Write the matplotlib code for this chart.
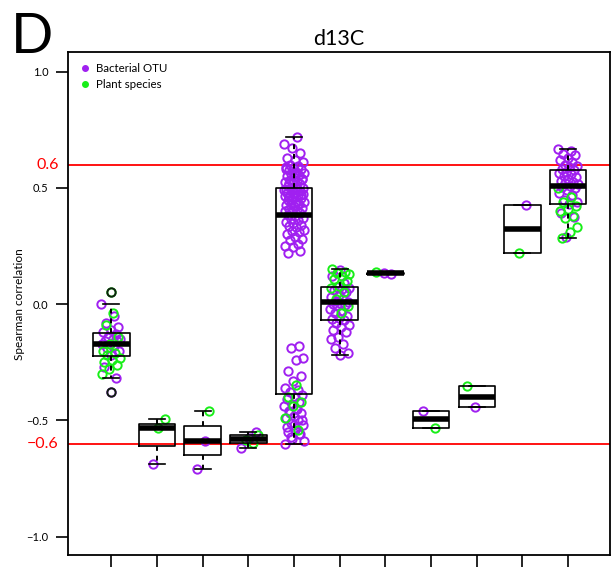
import numpy as np
import matplotlib.pyplot as plt
from matplotlib.lines import Line2D

plt.rcParams['font.family'] = ['Lato', 'DejaVu Sans']

# correlation values per group: bacterial OTUs (purple) and plant species (green)
bact = [
    [0.0, -0.05, -0.08, -0.10, -0.11, -0.12, -0.13, -0.14, -0.15, -0.15, -0.16,
     -0.16, -0.17, -0.17, -0.18, -0.19, -0.20, -0.22, -0.27, -0.32, -0.38],
    [-0.69],
    [-0.59, -0.71],
    [-0.55, -0.575, -0.62],
    [0.22, 0.23, 0.245, 0.25, 0.26, 0.275, 0.28, 0.29, 0.30, 0.31, 0.315, 0.32,
     0.33, 0.335, 0.34, 0.35, 0.355, 0.36, 0.365, 0.37,
     0.38, 0.385, 0.39, 0.395, 0.40, 0.405, 0.41, 0.415, 0.42, 0.425, 0.43,
     0.435, 0.44, 0.445, 0.45, 0.455, 0.46, 0.465, 0.47, 0.47, 0.475, 0.48,
     0.48, 0.485, 0.49, 0.49, 0.495, 0.46, 0.47, 0.48, 0.49, 0.43, 0.45,
     0.50, 0.505, 0.51, 0.515, 0.52, 0.525, 0.53, 0.535, 0.54, 0.545, 0.55,
     0.555, 0.56, 0.565, 0.57, 0.575, 0.58, 0.585, 0.59, 0.595, 0.60, 0.61,
     0.62, 0.63, 0.65, 0.67, 0.69, 0.72, 0.52, 0.54, 0.56, 0.58,
     -0.18, -0.19, -0.23, -0.24, -0.29, -0.31, -0.33, -0.36, -0.37, -0.38,
     -0.39, -0.40, -0.41, -0.42, -0.43, -0.44, -0.45, -0.46, -0.47, -0.48,
     -0.49, -0.50, -0.51, -0.52, -0.54, -0.55, -0.56, -0.58, -0.60,
     -0.45, -0.47, -0.5, -0.52, -0.53, -0.56, -0.57, -0.59],
    [0.145, 0.12, 0.09, 0.075, 0.07, 0.065, 0.06, 0.05, 0.04, 0.03, 0.02, 0.015,
     0.01, 0.005, 0.0, -0.005, -0.01, -0.02, -0.03, -0.04, -0.05, -0.06, -0.065,
     -0.07, -0.08, -0.09, -0.1, -0.11, -0.12, -0.14, -0.15, -0.17, -0.19,
     -0.21, -0.22],
    [0.128, 0.132],
    [-0.46],
    [-0.443],
    [0.426],
    [0.667, 0.66, 0.645, 0.64, 0.63, 0.62, 0.61, 0.6, 0.595, 0.59, 0.58, 0.575,
     0.57, 0.565, 0.56, 0.55, 0.545, 0.54, 0.53, 0.525, 0.52, 0.515, 0.51,
     0.505, 0.5, 0.49, 0.48, 0.47, 0.45, 0.44, 0.43, 0.39, 0.375, 0.29],
]
plant = [
    [0.05, -0.04, -0.09, -0.14, -0.17, -0.2, -0.21, -0.22, -0.23, -0.24, -0.25,
     -0.26, -0.28, -0.3],
    [-0.495, -0.535],
    [-0.46],
    [-0.598, -0.585, -0.563],
    [-0.35, -0.40, -0.42, -0.44, -0.49, -0.54],
    [0.15, 0.14, 0.135, 0.13, 0.12, 0.11, 0.1, 0.08, 0.07, 0.05, 0.02, -0.01,
     -0.04],
    [0.137],
    [-0.533],
    [-0.353],
    [0.219],
    [0.50, 0.46, 0.44, 0.42, 0.41, 0.4, 0.38, 0.37, 0.33, 0.31, 0.284],
]
yticks = [1.0, 0.5, 0.0, -0.5, -1.0]
thresholds = [0.6, -0.6]

purple = '#A020F0'
green = '#18EE18'


def fivenum(v):
    v = np.sort(v)
    n = len(v)
    n4 = np.floor((n + 3) / 2) / 2
    d = np.array([1, n4, (n + 1) / 2, n + 1 - n4, n]) - 1
    return 0.5 * (v[np.floor(d).astype(int)] + v[np.ceil(d).astype(int)])


stats = []
for b, p in zip(bact, plant):
    v = np.array(b + p)
    lo, q1, med, q3, hi = fivenum(v)
    iqr = q3 - q1
    inside = v[(v >= q1 - 1.5 * iqr) & (v <= q3 + 1.5 * iqr)]
    stats.append(dict(med=med, q1=q1, q3=q3, whislo=inside.min(),
                      whishi=inside.max(),
                      fliers=v[(v < q1 - 1.5 * iqr) | (v > q3 + 1.5 * iqr)]))

fig = plt.figure(figsize=(6.12, 5.67), dpi=100)
ax = fig.add_axes([0.111, 0.021, 0.886, 0.887])

# jittered points
for i, (b, p) in enumerate(zip(bact, plant)):
    vals = b + p
    cols = [purple] * len(b) + [green] * len(p)
    for j, (y, c) in enumerate(zip(vals, cols)):
        dx = ((j * 0.618034 + i * 0.3) % 1 - 0.5) * 0.44
        if y in stats[i]['fliers']:
            dx = 0
        ax.plot(i + 1 + dx, y, 'o', ms=6, mfc='none', mec=c, mew=1.4, zorder=2)

ax.bxp(stats, positions=range(1, len(stats) + 1), widths=0.8,
       boxprops=dict(color='black', lw=1.2),
       medianprops=dict(color='black', lw=4, solid_capstyle='butt'),
       whiskerprops=dict(color='black', lw=1.4, ls=(0, (2.5, 2.5))),
       capprops=dict(color='black', lw=1.2),
       flierprops=dict(marker='o', mfc='none', mec='#102010', mew=1.4, ms=6),
       capwidths=0.35, manage_ticks=False, zorder=3)

for t in thresholds:
    ax.axhline(t, color='red', lw=1.3, zorder=1)
    ax.text(-0.017, t, f'{t:.1f}'.replace('-', '\u2212'), color='red',
            fontsize=11.5, ha='right', va='center',
            transform=ax.get_yaxis_transform())

ax.set_xlim(0.05, 11.92)
ax.set_ylim(-1.08, 1.084)
ax.set_yticks(yticks)
ax.set_yticklabels([f'{t:.1f}'.replace('-', '\u2212') for t in yticks],
                   fontsize=8)
ax.set_xticks(range(1, len(stats) + 1))
ax.set_xticklabels([])
ax.tick_params(axis='y', length=9, width=1.2, pad=5)
ax.tick_params(axis='x', length=14, width=1.2)
for s in ax.spines.values():
    s.set_linewidth(1.3)

ax.set_ylabel('Spearman correlation', fontsize=8.5)
ax.yaxis.set_label_coords(-0.08, 0.5)
ax.set_title('d13C', fontsize=15.5, pad=5)
fig.text(0.018, 0.978, 'D', fontsize=40, va='top', ha='left')

handles = [Line2D([], [], ls='', marker='o', ms=4, color=purple),
           Line2D([], [], ls='', marker='o', ms=4, color=green)]
ax.legend(handles, ['Bacterial OTU', 'Plant species'], loc='upper left',
          frameon=False, fontsize=8.3, handletextpad=0.5, handlelength=1,
          labelspacing=0.45, borderaxespad=0.55)

fig.savefig('out.png', dpi=100)
